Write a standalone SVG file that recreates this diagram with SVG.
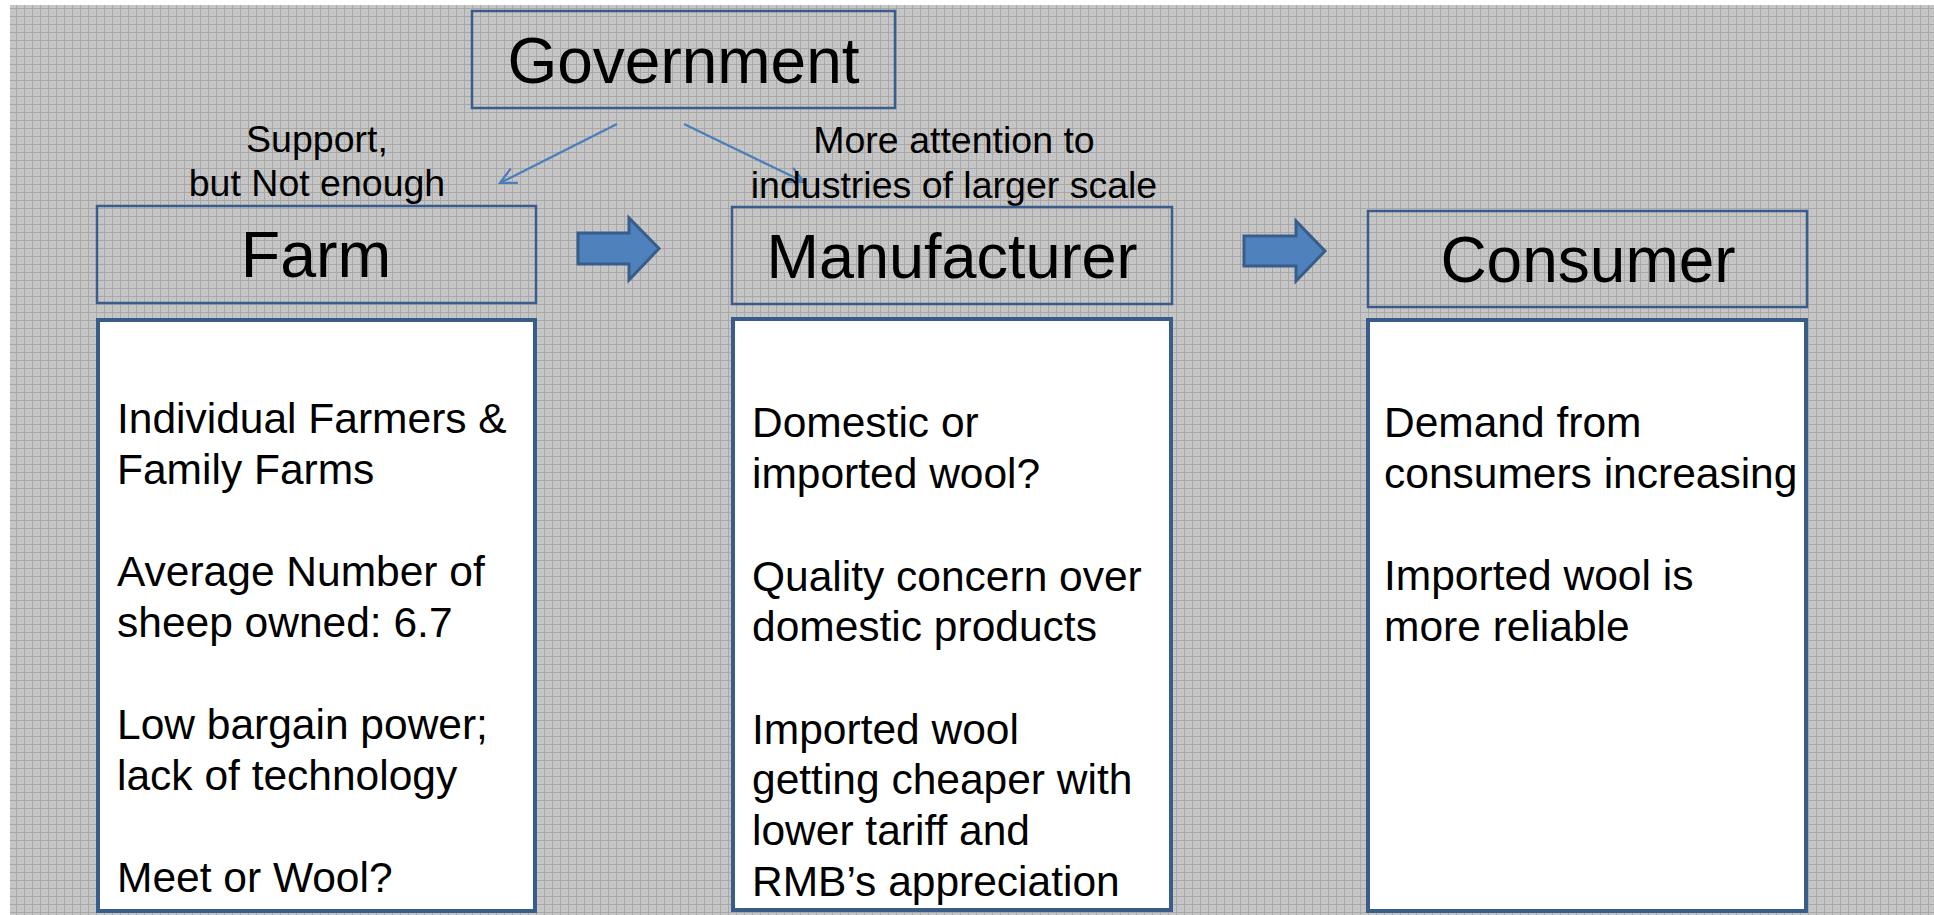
<svg xmlns="http://www.w3.org/2000/svg" width="1934" height="915" viewBox="0 0 1934 915">
<style>
.hdr{fill:none;stroke:#385D8A;stroke-width:2.5}
.body{fill:#FFFFFF;stroke:#385D8A;stroke-width:4}
.title{font-family:"Liberation Sans",Arial,sans-serif;fill:#000;text-anchor:middle}
.lbl{font-family:"Liberation Sans",Arial,sans-serif;font-size:37.5px;fill:#000;text-anchor:middle}
.txt{font-family:"Liberation Sans",Arial,sans-serif;font-size:42.5px;fill:#000}
.conn{stroke:#4A7EBB;stroke-width:2.2;fill:none}
.block{fill:#4F81BD;stroke:#385D8A;stroke-width:3}
</style>
<defs>
<pattern id="bg" width="8" height="8" patternUnits="userSpaceOnUse">
<rect width="8" height="8" fill="#C6C6C6"/>
<rect x="0" y="0" width="8" height="1" fill="#A8A8A8"/>
<rect x="0" y="0" width="1" height="8" fill="#A8A8A8"/>
<rect x="4" y="4" width="1" height="1" fill="#B4B4B4"/>
</pattern>
<marker id="open" viewBox="0 0 20 20" refX="18" refY="10" markerWidth="20" markerHeight="20" markerUnits="userSpaceOnUse" orient="auto">
<path d="M2,2 L18,10 L2,18" fill="none" stroke="#4A7EBB" stroke-width="2.2"/>
</marker>
</defs>
<rect width="1934" height="915" fill="#FFFFFF"/>
<rect x="10" y="5" width="1924" height="910" fill="url(#bg)"/>

<g id="government">
<rect class="hdr" x="472" y="11" width="423" height="97"/>
<text class="title" x="683.5" y="83" font-size="64">Government</text>
</g>

<g id="connectors">
<line class="conn" x1="617" y1="124" x2="500" y2="183" marker-end="url(#open)"/>
<line class="conn" x1="684" y1="124" x2="804" y2="182" marker-end="url(#open)"/>
<path class="block" d="M578,233 L629,233 L629,218 L659,248.5 L629,280 L629,264 L578,264 Z"/>
<path class="block" d="M1244,236 L1296,236 L1296,221 L1325,251 L1296,281 L1296,266 L1244,266 Z"/>
</g>

<g id="label-support">
<text class="lbl" x="317" y="152">Support,</text>
<text class="lbl" x="317" y="196">but Not enough</text>
</g>
<g id="label-attention">
<text class="lbl" x="954" y="153">More attention to</text>
<text class="lbl" x="954" y="198">industries of larger scale</text>
</g>

<g id="farm">
<rect class="hdr" x="97" y="206" width="439" height="97"/>
<text class="title" x="316" y="277" font-size="64.5">Farm</text>
<rect class="body" x="98" y="320" width="437" height="591"/>
<text class="txt" x="117" y="433">Individual Farmers &amp;</text>
<text class="txt" x="117" y="484">Family Farms</text>
<text class="txt" x="117" y="586">Average Number of</text>
<text class="txt" x="117" y="637">sheep owned: 6.7</text>
<text class="txt" x="117" y="739">Low bargain power;</text>
<text class="txt" x="117" y="790">lack of technology</text>
<text class="txt" x="117" y="892">Meet or Wool?</text>
</g>

<g id="manufacturer">
<rect class="hdr" x="732" y="207" width="440" height="97"/>
<text class="title" x="952" y="278" font-size="63">Manufacturer</text>
<rect class="body" x="733" y="319" width="438" height="591"/>
<text class="txt" x="752" y="437">Domestic or</text>
<text class="txt" x="752" y="487.5">imported wool?</text>
<text class="txt" x="752" y="591">Quality concern over</text>
<text class="txt" x="752" y="641">domestic products</text>
<text class="txt" x="752" y="744">Imported wool</text>
<text class="txt" x="752" y="794">getting cheaper with</text>
<text class="txt" x="752" y="845">lower tariff and</text>
<text class="txt" x="752" y="896">RMB’s appreciation</text>
</g>

<g id="consumer">
<rect class="hdr" x="1368" y="211" width="439" height="96"/>
<text class="title" x="1588" y="282" font-size="64">Consumer</text>
<rect class="body" x="1368" y="320" width="438" height="591"/>
<text class="txt" x="1384" y="437">Demand from</text>
<text class="txt" x="1384" y="487.5">consumers increasing</text>
<text class="txt" x="1384" y="590">Imported wool is</text>
<text class="txt" x="1384" y="641">more reliable</text>
</g>
</svg>
